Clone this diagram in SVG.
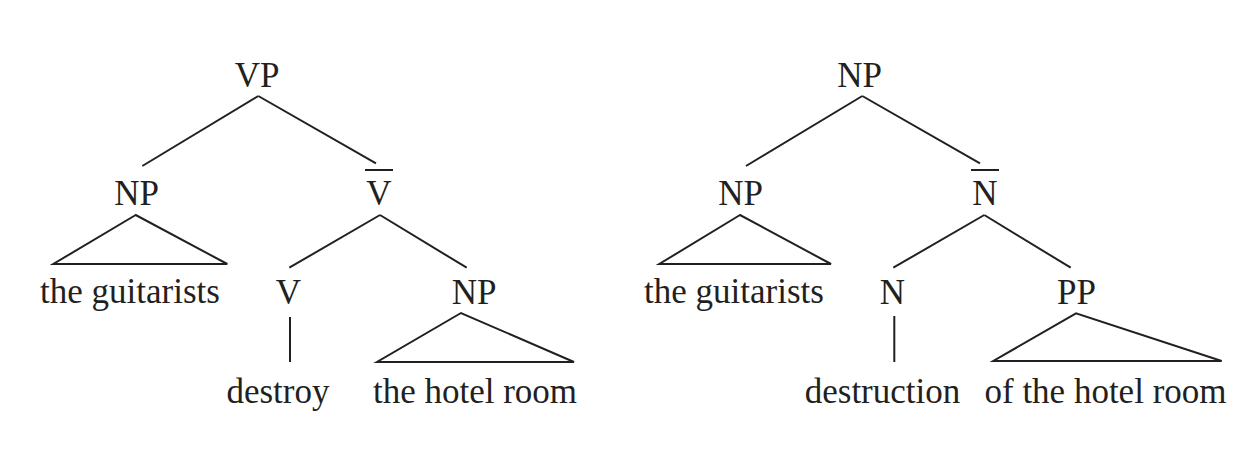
<svg xmlns="http://www.w3.org/2000/svg" width="1260" height="454" viewBox="0 0 1260 454">
<style>
text{font-family:"Liberation Serif","Times New Roman",serif;font-size:35px;fill:#231f20;text-anchor:middle}
.e{stroke:#231f20;stroke-width:2;fill:none;stroke-linejoin:miter}
</style>
<rect width="1260" height="454" fill="#ffffff"/>
<g id="connectors">
<line class="e" x1="258.3" y1="96" x2="142.3" y2="166"/>
<line class="e" x1="258.3" y1="96" x2="376" y2="163.3"/>
<polygon class="e" points="135.7,215 53.3,264 227.3,264"/>
<line class="e" x1="380" y1="215" x2="289.3" y2="267.7"/>
<line class="e" x1="380" y1="215" x2="466.7" y2="267.7"/>
<line class="e" x1="290" y1="317" x2="290" y2="362"/>
<polygon class="e" points="461,313 377,362 574,362"/>
<line class="e" x1="862.3" y1="96" x2="746" y2="166"/>
<line class="e" x1="862.3" y1="96" x2="980" y2="163.3"/>
<polygon class="e" points="740,215 659.3,264 831,264"/>
<line class="e" x1="984.3" y1="215" x2="893.3" y2="267.7"/>
<line class="e" x1="984.3" y1="215" x2="1070.7" y2="267.7"/>
<line class="e" x1="894.3" y1="316" x2="894.3" y2="362"/>
<polygon class="e" points="1076,313.3 993.3,361 1221.7,361"/>
</g>
<g id="vp"><text x="257" y="87">VP</text></g>
<g id="np-subj-1"><text x="136.5" y="205">NP</text></g>
<g id="vbar"><line class="e" x1="365" y1="170" x2="393" y2="170"/><text x="379" y="205">V</text></g>
<g id="guitarists-1"><text x="130" y="303">the guitarists</text></g>
<g id="v"><text x="288.5" y="304">V</text></g>
<g id="np-obj"><text x="474" y="304">NP</text></g>
<g id="destroy"><text x="278" y="403">destroy</text></g>
<g id="hotel-room-1"><text x="475" y="403">the hotel room</text></g>
<g id="np-top"><text x="859.5" y="87">NP</text></g>
<g id="np-subj-2"><text x="740.5" y="205">NP</text></g>
<g id="nbar"><line class="e" x1="971" y1="170" x2="999" y2="170"/><text x="985" y="205">N</text></g>
<g id="guitarists-2"><text x="734" y="303">the guitarists</text></g>
<g id="n"><text x="892.5" y="304">N</text></g>
<g id="pp"><text x="1076.5" y="304">PP</text></g>
<g id="destruction"><text x="882.5" y="403">destruction</text></g>
<g id="hotel-room-2"><text x="1105.5" y="403">of the hotel room</text></g>
</svg>
